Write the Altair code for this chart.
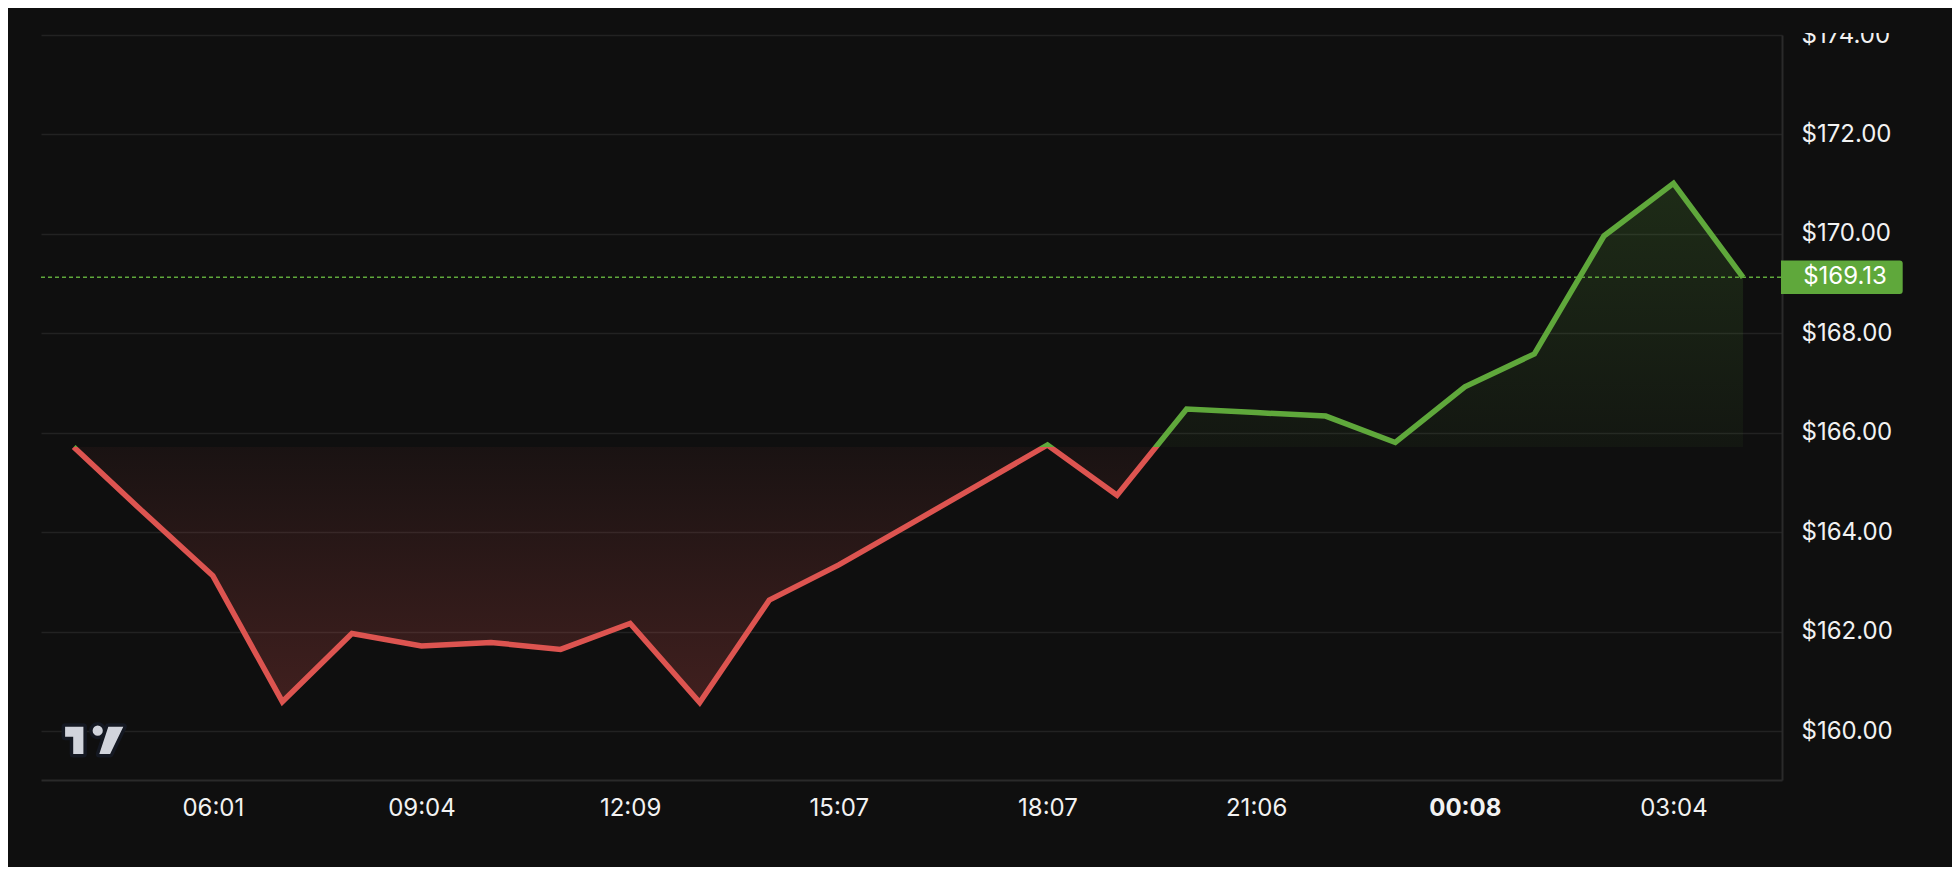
import math
import altair as alt
import pandas as pd

# ---- data ----
hour_index = list(range(25))
prices = [165.72, 164.41, 163.13, 160.60, 161.97, 161.72, 161.79, 161.65, 162.17,
          160.58, 162.64, 163.35, 164.15, 164.95, 165.76, 164.75, 166.48, 166.41,
          166.34, 165.81, 166.93, 167.59, 169.96, 171.02, 169.13]
tick_index = [2, 5, 8, 11, 14, 17, 20, 23]
tick_labels = ["06:01", "09:04", "12:09", "15:07", "18:07", "21:06", "00:08", "03:04"]
bold_tick = 20
y_ticks = [160, 162, 164, 166, 168, 170, 172, 174]

base_value = prices[0]
last_value = prices[-1]

BG = "#0f0f0f"
GREEN = "#5fa83b"
RED = "#dd5450"
TEXT = "#f2f2f2"
FONT = "Inter"
FS = 24

W, H = 1741, 745

df = pd.DataFrame({"idx": hour_index, "value": prices, "base": [base_value] * len(prices)})
price_df = pd.DataFrame({"value": [last_value], "label": ["$" + f"{last_value:.2f}"]})
one_df = pd.DataFrame({"k": [0]})

vmax, vmin = max(prices), min(prices)
off = (vmax - base_value) / (vmax - vmin)

line_grad = {
    "gradient": "linear", "x1": 0, "y1": 0, "x2": 0, "y2": 1,
    "stops": [
        {"offset": 0, "color": GREEN},
        {"offset": off, "color": GREEN},
        {"offset": off, "color": RED},
        {"offset": 1, "color": RED},
    ],
}
fill_grad = {
    "gradient": "linear", "x1": 0, "y1": 0, "x2": 0, "y2": 1,
    "stops": [
        {"offset": 0, "color": "rgba(95,168,59,0.19)"},
        {"offset": off, "color": "rgba(95,168,59,0.05)"},
        {"offset": off, "color": "rgba(221,84,80,0.05)"},
        {"offset": 1, "color": "rgba(221,84,80,0.24)"},
    ],
}

label_arr = "[" + ",".join(f"'{t}'" for t in tick_labels) + "]"
idx_arr = "[" + ",".join(str(i) for i in tick_index) + "]"

x_axis = alt.Axis(
    values=tick_index,
    labelExpr=f"{label_arr}[indexof({idx_arr}, datum.value)]",
    grid=False, ticks=False, tickSize=0, domain=True,
    domainColor="#2a2a2a", domainWidth=2,
    labelColor=TEXT, labelFont=FONT, labelFontSize=FS,
    labelFontWeight={"condition": {"test": f"datum.value == {bold_tick}", "value": "bold"}, "value": "normal"},
    labelPadding=28, labelBaseline="middle", labelFlush=False, labelOverlap=False,
    title=None,
)
y_axis = alt.Axis(
    orient="right", values=y_ticks,
    labelExpr="'$' + format(datum.value, '.2f')",
    grid=True, gridColor="#222222", gridWidth=1.5,
    ticks=False, tickSize=0, domain=True, domainColor="#2a2a2a", domainWidth=2,
    labelColor=TEXT, labelFont=FONT, labelFontSize=FS, labelPadding=19,
    labelBaseline="middle", labelAlign="left", labelFlush=False, labelOverlap=False,
    title=None,
)

x_enc = alt.X("idx:Q", scale=alt.Scale(domain=[-0.47, 24.56], nice=False, zero=False), axis=x_axis)
y_enc = alt.Y("value:Q", scale=alt.Scale(domain=[159.025, 174.0], nice=False, zero=False), axis=y_axis)

area = alt.Chart(df).mark_area(fill=fill_grad, line=False).encode(
    x=x_enc, y=y_enc, y2=alt.Y2("base:Q")
)
price_rule = alt.Chart(price_df).mark_rule(
    color=GREEN, strokeWidth=1.5, strokeDash=[4, 3]
).encode(y=y_enc, x=alt.value(0), x2=alt.value(W))
line = alt.Chart(df).mark_line(
    stroke=line_grad, strokeWidth=5.5, strokeJoin="miter", strokeCap="butt"
).encode(x=x_enc, y=y_enc)

box_path = ("M-1,-0.274 L0.95,-0.274 Q1,-0.274 1,-0.224 L1,0.224 "
            "Q1,0.274 0.95,0.274 L-1,0.274 Z")
price_box = alt.Chart(price_df).mark_point(
    shape=box_path, filled=True, fill=GREEN, opacity=1, size=121.7 ** 2, strokeWidth=0
).encode(x=alt.value(1800.85), y=y_enc)
price_text = alt.Chart(price_df).mark_text(
    font=FONT, fontSize=FS, color="#ffffff", align="center", baseline="middle"
).encode(x=alt.value(1804), y=y_enc, text="label:N")

# decorative logo (TV mark): bar/stem, dot, slash
dot = " ".join(
    ("M" if k == 0 else "L")
    + f"{0.117 + 0.17 * math.cos(2 * math.pi * k / 16):.3f},{-0.32 + 0.17 * math.sin(2 * math.pi * k / 16):.3f}"
    for k in range(16)
) + " Z"
logo_path = ("M-0.97,-0.45 L-0.36,-0.45 L-0.36,0.46 L-0.70,0.46 L-0.70,-0.12 L-0.97,-0.12 Z "
             + dot + " M0.47,-0.45 L0.97,-0.45 L0.53,0.46 L0.17,0.46 Z")
logo_bg = alt.Chart(one_df).mark_point(
    shape=logo_path, filled=True, fill="#141822", stroke="#141822", strokeWidth=7,
    strokeJoin="round", opacity=1, size=3600
).encode(x=alt.value(53.2), y=alt.value(705.3))
logo = alt.Chart(one_df).mark_point(
    shape=logo_path, filled=True, fill="#d1d4dc", opacity=1, size=3600, strokeWidth=0
).encode(x=alt.value(53.2), y=alt.value(705.3))

top_cover = alt.Chart(one_df).mark_rect(fill=BG, clip=False).encode(
    x=alt.value(-40), x2=alt.value(W + 170), y=alt.value(-40), y2=alt.value(-2)
)

chart = alt.layer(
    area, price_rule, line, price_box, price_text, logo_bg, logo, top_cover
).properties(
    width=W, height=H,
    autosize=alt.AutoSizeParams(type="none"),
    padding={"left": 33, "top": 27, "right": 170, "bottom": 87},
    background=BG,
).configure_view(strokeWidth=0)

chart.save("out.html", embed_options={"renderer": "svg", "actions": False})
